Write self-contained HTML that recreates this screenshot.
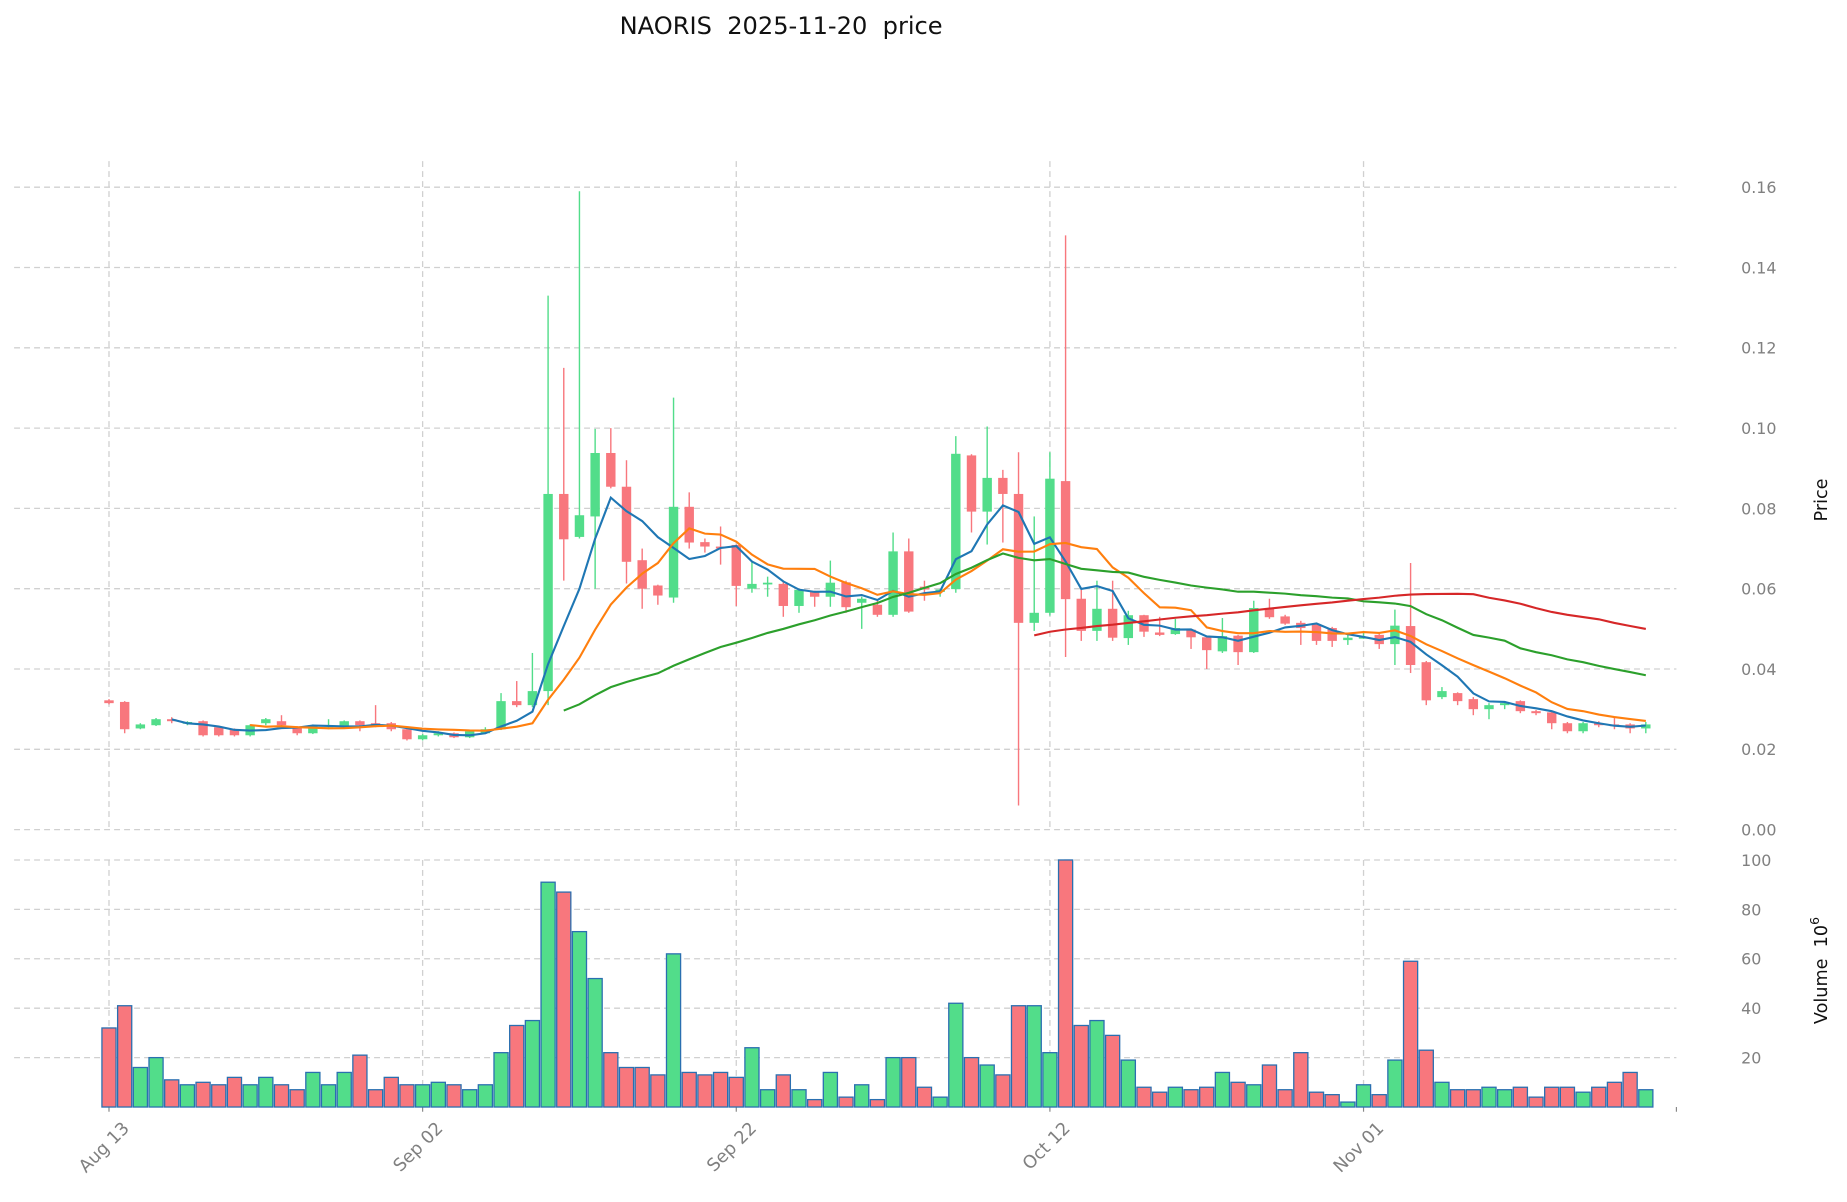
<!DOCTYPE html>
<html><head><meta charset="utf-8"><style>
html,body{margin:0;padding:0;background:#fff;}
svg{display:block;font-family:"DejaVu Sans","Liberation Sans",sans-serif;}
</style></head><body>
<svg id="c" width="1847" height="1202" viewBox="0 0 1847 1202" xmlns="http://www.w3.org/2000/svg">
<g id="g" transform="scale(1.17643)"></g>
</svg>
<script>
var D=[
[.0322,.0315,.0325,.0312],[.0318,.025,.0320,.024],[.0252,.0262,.0265,.025],[.026,.0275,.0278,.0258],[.0275,.027,.028,.0265],
[.0265,.0268,.027,.026],[.027,.0235,.0272,.0232],[.0255,.0235,.0258,.0232],[.025,.0235,.0252,.0232],[.0235,.026,.0262,.0232],
[.0265,.0275,.0278,.026],[.027,.026,.0285,.0258],[.0255,.024,.0258,.0235],[.024,.026,.0262,.0238],[.0255,.0255,.0275,.025],
[.0255,.027,.0272,.0252],[.027,.026,.0272,.0245],[.0265,.026,.031,.0255],[.0265,.025,.0268,.0245],[.025,.0225,.0252,.0222],
[.0225,.0235,.0238,.0222],[.0235,.024,.0245,.0232],[.024,.023,.0242,.0228],[.023,.0245,.0248,.0228],[.024,.025,.0255,.0238],
[.025,.032,.034,.0248],[.032,.031,.037,.0305],[.031,.0345,.044,.0305],[.0345,.0836,.133,.031],[.0836,.0723,.115,.062],
[.0729,.0783,.159,.0725],[.078,.0938,.0998,.060],[.0938,.0854,.1,.085],[.0854,.0667,.092,.0613],[.0671,.060,.07,.055],
[.0608,.0583,.061,.056],[.0578,.0804,.1076,.0565],[.0804,.0715,.084,.07],[.0716,.0705,.0725,.069],[.0705,.070,.0755,.066],
[.0709,.0607,.071,.0557],[.060,.0612,.067,.059],[.0615,.0615,.063,.058],[.0612,.0557,.062,.053],[.0557,.0597,.060,.054],
[.0593,.058,.0595,.0555],[.058,.0615,.067,.0555],[.0616,.0554,.062,.054],[.0565,.0575,.058,.050],[.056,.0535,.057,.053],
[.0535,.0693,.074,.053],[.0693,.0543,.0725,.054],[.0605,.0598,.062,.057],[.0592,.0598,.060,.058],[.0599,.0936,.098,.059],
[.0932,.0792,.0935,.074],[.0792,.0876,.1004,.071],[.0876,.0836,.0896,.0715],[.0836,.0515,.094,.006],[.0515,.054,.078,.0495],
[.054,.0874,.094,.0533],[.0868,.0574,.148,.043],[.0575,.0495,.0603,.047],[.0495,.055,.062,.047],[.055,.0478,.062,.047],
[.0477,.0534,.0545,.046],[.0534,.0493,.0535,.048],[.0491,.0485,.053,.0482],[.0487,.0502,.0525,.0485],[.0498,.0479,.050,.045],
[.0479,.0447,.048,.040],[.0444,.0482,.0527,.044],[.0483,.0442,.0485,.041],[.0442,.0552,.057,.044],[.0552,.0529,.0575,.0525],
[.0531,.0513,.0535,.051],[.0515,.0502,.052,.046],[.0511,.047,.0512,.046],[.0502,.047,.0505,.0455],[.0472,.0478,.049,.046],
[.0476,.048,.0495,.0475],[.0485,.0462,.0487,.045],[.0462,.0508,.0548,.041],[.0507,.041,.0664,.039],[.0417,.0322,.042,.031],
[.033,.0345,.0355,.0325],[.034,.032,.0342,.031],[.0325,.030,.033,.0285],[.030,.031,.0315,.0275],[.031,.0315,.032,.030],
[.032,.0295,.0322,.029],[.0295,.029,.0298,.0285],[.0292,.0265,.0295,.025],[.0265,.0245,.0268,.024],[.0245,.0265,.0268,.024],
[.0265,.026,.027,.0255],[.0262,.0258,.028,.025],[.0262,.0252,.0265,.024],[.0252,.0262,.0268,.024]];
var V=[32,41,16,20,11,9,10,9,12,9,12,9,7,14,9,14,21,7,12,9,9,10,9,7,9,22,33,35,91,87,71,52,22,16,16,13,62,14,13,14,12,24,7,13,7,3,14,4,9,3,20,20,8,4,42,20,17,13,41,41,22,100,33,35,29,19,8,6,8,7,8,14,10,9,17,7,22,6,5,2,9,5,19,59,23,10,7,7,8,7,8,4,8,8,6,8,10,14,7];
var G="#52dd8a",R="#f8777d";
var s='';
function yp(p){return 705.2-p*3413;}
function xi(i){return 92.65+i*13.33;}
function yv(v){return 941-v*2.1;}
var L=12,Rt=1425,TX=1480,TC="#808080";
var pt=[0,.02,.04,.06,.08,.1,.12,.14,.16];
pt.forEach(function(p){var y=yp(p);s+='<line x1="'+L+'" x2="'+Rt+'" y1="'+y+'" y2="'+y+'" stroke="#d0d0d0" stroke-width="1.1" stroke-dasharray="5,3.5"/>';
s+='<text x="'+TX+'" y="'+(y+5)+'" font-size="13.5" fill="'+TC+'">'+p.toFixed(2)+'</text>';});
[20,40,60,80,100].forEach(function(v){var y=yv(v);s+='<line x1="'+L+'" x2="'+Rt+'" y1="'+y+'" y2="'+y+'" stroke="#d0d0d0" stroke-width="1.1" stroke-dasharray="5,3.5"/>';
s+='<text x="'+TX+'" y="'+(y+5)+'" font-size="13.5" fill="'+TC+'">'+v+'</text>';});
var dl=["Aug 13","Sep 02","Sep 22","Oct 12","Nov 01"];
dl.forEach(function(t,k){var x=xi(k*20);
s+='<line x1="'+x+'" x2="'+x+'" y1="137" y2="705" stroke="#d0d0d0" stroke-width="1.1" stroke-dasharray="5,3.5"/>';
s+='<line x1="'+x+'" x2="'+x+'" y1="731" y2="941" stroke="#d0d0d0" stroke-width="1.1" stroke-dasharray="5,3.5"/>';
s+='<line x1="'+x+'" x2="'+x+'" y1="941" y2="945" stroke="#888"/>';
s+='<text transform="translate('+(x+18)+',960) rotate(-45)" text-anchor="end" font-size="15" fill="'+TC+'">'+t+'</text>';});
s+='<line x1="'+Rt+'" x2="'+Rt+'" y1="941" y2="945" stroke="#888"/>';
V.forEach(function(v,i){var d=D[i];var c=d[1]>=d[0]?G:R;var x=xi(i);
s+='<rect x="'+(x-6)+'" y="'+yv(v)+'" width="12" height="'+(v*2.1)+'" fill="'+c+'" stroke="#2a6fb0" stroke-width="1.1"/>';});
D.forEach(function(d,i){var c=d[1]>=d[0]?G:R;var x=xi(i);
s+='<line x1="'+x+'" x2="'+x+'" y1="'+yp(d[2])+'" y2="'+yp(d[3])+'" stroke="'+c+'" stroke-width="1.2"/>';
var t=yp(Math.max(d[0],d[1])),b=yp(Math.min(d[0],d[1]));if(b-t<1.5)b=t+1.5;
s+='<rect x="'+(x-4)+'" y="'+t+'" width="8" height="'+(b-t)+'" fill="'+c+'"/>';});
function ma(n,col){var pts=[];for(var i=n-1;i<D.length;i++){var sm=0;for(var j=i-n+1;j<=i;j++)sm+=D[j][1];pts.push(xi(i).toFixed(1)+','+yp(sm/n).toFixed(1));}
s+='<polyline points="'+pts.join(' ')+'" fill="none" stroke="'+col+'" stroke-width="1.8"/>';}
ma(5,"#1f77b4");ma(10,"#ff7f0e");ma(30,"#2ca02c");ma(60,"#d62728");
s+='<text x="664" y="29" text-anchor="middle" font-size="20.5" fill="#111" xml:space="preserve">NAORIS  2025-11-20  price</text>';
s+='<text transform="translate(1553,425) rotate(-90)" text-anchor="middle" font-size="15" fill="#111">Price</text>';
s+='<text transform="translate(1553,825) rotate(-90)" text-anchor="middle" font-size="15" fill="#111" xml:space="preserve">Volume  10<tspan dy="-7" font-size="10.5">6</tspan></text>';
document.getElementById('g').innerHTML=s;
</script>
</body></html>
